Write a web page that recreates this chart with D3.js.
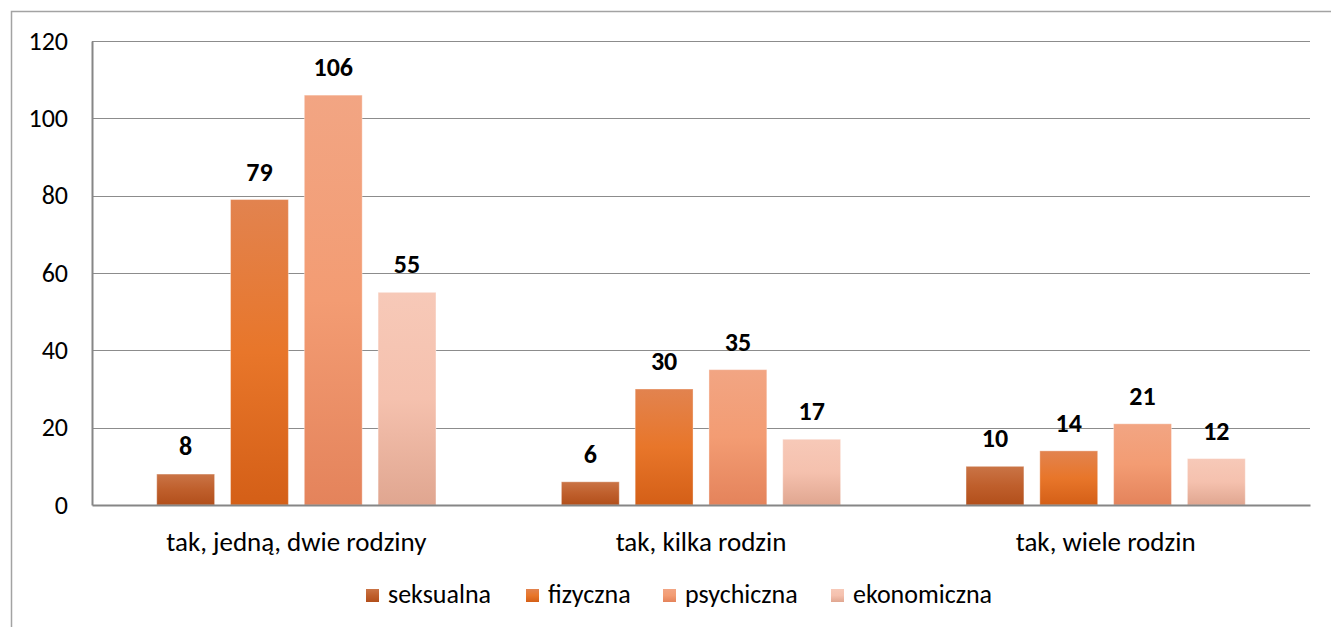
<!DOCTYPE html>
<html>
<head>
<meta charset="utf-8">
<script src="https://cdn.jsdelivr.net/npm/d3@7"></script>
<style>
  body { margin: 0; background: #fff; }
  svg { display: block; font-family: Carlito, Lato, sans-serif; }
</style>
</head>
<body>
<div id="chart"></div>
<script>
const categories = ["tak, jedną, dwie rodziny", "tak, kilka rodzin", "tak, wiele rodzin"];
const seriesNames = ["seksualna", "fizyczna", "psychiczna", "ekonomiczna"];
const seksualna = [8, 6, 10];
const fizyczna = [79, 30, 14];
const psychiczna = [106, 35, 21];
const ekonomiczna = [55, 17, 12];
const yTicks = [0, 20, 40, 60, 80, 100, 120];

const w = 1331;
const h = 627;
const plot = { left: 92, right: 1310, top: 41, bottom: 505 };

// gradient stops top -> bottom for each series
const gradients = [
  ["#ca7446", "#bf5f2c", "#b24f1b"],
  ["#e2834f", "#e8762a", "#d45f17"],
  ["#f2a583", "#f39c73", "#e4835b"],
  ["#f7c9b8", "#f5c1ae", "#e0a690"]
];

const valuesBySeries = [seksualna, fizyczna, psychiczna, ekonomiczna];
const rows = categories.map((c, i) => ({
  category: c,
  values: seriesNames.map((s, j) => ({ key: s, idx: j, value: valuesBySeries[j][i] }))
}));

const svg = d3.select("#chart")
  .append("svg")
  .attr("width", w)
  .attr("height", h);

const defs = svg.append("defs");
gradients.forEach((g, i) => {
  const lg = defs.append("linearGradient")
    .attr("id", "grad" + i)
    .attr("x1", 0).attr("y1", 0).attr("x2", 0).attr("y2", 1);
  lg.append("stop").attr("offset", "0%").attr("stop-color", g[0]);
  lg.append("stop").attr("offset", "50%").attr("stop-color", g[1]);
  lg.append("stop").attr("offset", "100%").attr("stop-color", g[2]);
});

// outer frame (runs off the right and bottom edges)
svg.append("rect")
  .attr("x", 11.5)
  .attr("y", 11.5)
  .attr("width", w)
  .attr("height", h)
  .attr("fill", "none")
  .attr("stroke", "#a3a3a3")
  .attr("stroke-width", 1.5);

const x0 = d3.scaleBand()
  .domain(categories)
  .range([plot.left, plot.right])
  .paddingInner(0.31)
  .paddingOuter(0.16);

const x1 = d3.scaleBand()
  .domain(seriesNames)
  .range([0, x0.bandwidth()])
  .paddingInner(0.216);

const y = d3.scaleLinear()
  .domain([0, 120])
  .range([plot.bottom, plot.top]);

// gridlines
svg.append("g")
  .selectAll("line")
  .data(yTicks.filter(d => d > 0))
  .enter()
  .append("line")
  .attr("x1", plot.left)
  .attr("x2", plot.right)
  .attr("y1", d => Math.round(y(d)) + 0.5)
  .attr("y2", d => Math.round(y(d)) + 0.5)
  .attr("stroke", "#8c8c8c")
  .attr("stroke-width", 1);

// y axis
const yAxis = d3.axisLeft(y)
  .tickValues(yTicks)
  .tickSize(0)
  .tickPadding(24);

const yg = svg.append("g")
  .attr("transform", `translate(${plot.left}, 0)`)
  .call(yAxis);
yg.select(".domain").attr("stroke", "#868686").attr("stroke-width", 2);
yg.selectAll("text")
  .attr("font-family", "Carlito, Lato, sans-serif")
  .attr("font-size", 26)
  .attr("fill", "#000");

// bars
const groups = svg.append("g")
  .selectAll("g")
  .data(rows)
  .enter()
  .append("g")
  .attr("transform", d => `translate(${x0(d.category)}, 0)`);

groups.selectAll("rect")
  .data(d => d.values)
  .enter()
  .append("rect")
  .attr("x", d => x1(d.key))
  .attr("y", d => y(d.value))
  .attr("width", x1.bandwidth())
  .attr("height", d => y(0) - y(d.value))
  .attr("fill", d => `url(#grad${d.idx})`)
  .attr("stroke", "rgba(255,255,255,0.35)")
  .attr("stroke-width", 1);

groups.selectAll("text")
  .data(d => d.values)
  .enter()
  .append("text")
  .attr("x", d => x1(d.key) + x1.bandwidth() / 2)
  .attr("y", d => y(d.value) - 19)
  .attr("text-anchor", "middle")
  .attr("font-size", 26)
  .attr("font-weight", "bold")
  .attr("fill", "#000")
  .text(d => d.value);

// x axis
const xAxis = d3.axisBottom(x0)
  .tickSize(0)
  .tickPadding(0);

const xg = svg.append("g")
  .attr("transform", `translate(0, ${plot.bottom})`)
  .call(xAxis);
xg.select(".domain").attr("stroke", "#868686").attr("stroke-width", 2);
xg.selectAll("text")
  .attr("font-family", "Carlito, Lato, sans-serif")
  .attr("font-size", 27)
  .attr("fill", "#000")
  .attr("dy", null)
  .attr("y", 46);

// legend
const legendX = [366, 526, 663, 831];
const legend = svg.append("g");
const items = legend.selectAll("g")
  .data(seriesNames)
  .enter()
  .append("g")
  .attr("transform", (d, i) => `translate(${legendX[i]}, 589)`);

items.append("rect")
  .attr("width", 13)
  .attr("height", 13)
  .attr("fill", (d, i) => `url(#grad${i})`);

items.append("text")
  .attr("x", 22)
  .attr("y", 14)
  .attr("font-size", 26)
  .attr("fill", "#000")
  .text(d => d);
</script>
</body>
</html>
